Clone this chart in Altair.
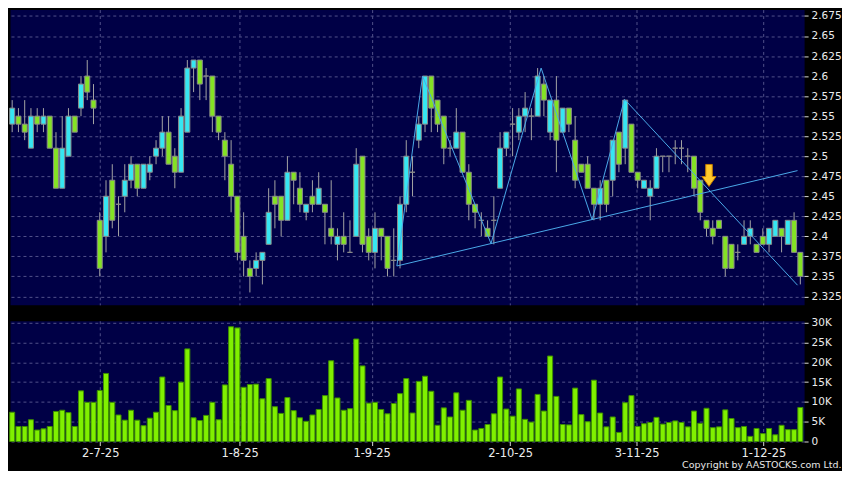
import altair as alt
import pandas as pd

# ---------------- data ----------------
opens = [2.54,2.55,2.54,2.51,2.55,2.54,2.55,2.51,2.46,2.50,
         2.55,2.56,2.60,2.57,2.42,2.40,2.47,2.44,2.45,2.47,
         2.49,2.46,2.48,2.50,2.51,2.53,2.50,2.48,2.53,2.61,
         2.62,2.60,2.60,2.55,2.52,2.49,2.45,2.40,2.36,2.36,
         2.37,2.39,2.45,2.45,2.42,2.48,2.46,2.43,2.45,2.44,
         2.44,2.41,2.39,2.40,2.38,2.40,2.50,2.40,2.38,2.41,
         2.40,2.37,2.37,2.44,2.48,2.52,2.54,2.60,2.57,2.55,
         2.51,2.51,2.53,2.48,2.44,2.42,2.41,2.42,2.46,2.51,
         2.54,2.53,2.55,2.55,2.55,2.59,2.53,2.57,2.53,2.56,
         2.52,2.49,2.49,2.46,2.44,2.47,2.47,2.53,2.51,2.54,
         2.48,2.46,2.45,2.46,2.50,2.50,2.51,2.51,2.50,2.50,
         2.47,2.42,2.41,2.42,2.40,2.39,2.38,2.39,2.40,2.39,
         2.40,2.39,2.40,2.41,2.39,2.42,2.38]
highs = [2.57,2.56,2.57,2.56,2.56,2.56,2.55,2.53,2.55,2.56,
         2.55,2.60,2.62,2.59,2.43,2.47,2.49,2.45,2.49,2.50,
         2.49,2.49,2.50,2.52,2.55,2.55,2.51,2.56,2.62,2.62,
         2.62,2.61,2.60,2.55,2.53,2.52,2.45,2.43,2.37,2.38,
         2.38,2.46,2.47,2.45,2.50,2.48,2.48,2.44,2.47,2.48,
         2.44,2.47,2.41,2.43,2.42,2.51,2.50,2.41,2.43,2.41,
         2.40,2.41,2.45,2.52,2.50,2.55,2.60,2.60,2.57,2.55,
         2.52,2.56,2.53,2.49,2.44,2.43,2.42,2.45,2.53,2.53,
         2.56,2.56,2.58,2.56,2.61,2.60,2.57,2.60,2.56,2.56,
         2.55,2.49,2.50,2.46,2.47,2.47,2.52,2.53,2.57,2.54,
         2.48,2.47,2.47,2.51,2.50,2.50,2.52,2.52,2.51,2.50,
         2.47,2.42,2.42,2.42,2.40,2.39,2.39,2.42,2.42,2.39,
         2.41,2.41,2.42,2.41,2.42,2.43,2.38]
lows = [2.53,2.53,2.52,2.51,2.53,2.53,2.51,2.46,2.46,2.50,
        2.53,2.55,2.57,2.54,2.35,2.38,2.41,2.40,2.43,2.46,
        2.45,2.46,2.47,2.49,2.50,2.49,2.46,2.48,2.53,2.58,
        2.57,2.57,2.53,2.52,2.47,2.43,2.37,2.35,2.33,2.35,
        2.34,2.39,2.41,2.40,2.42,2.44,2.43,2.42,2.43,2.44,
        2.39,2.39,2.37,2.38,2.38,2.40,2.38,2.37,2.36,2.37,
        2.35,2.35,2.36,2.43,2.45,2.51,2.53,2.53,2.53,2.49,
        2.50,2.51,2.48,2.42,2.41,2.40,2.40,2.39,2.46,2.50,
        2.50,2.52,2.53,2.52,2.55,2.55,2.52,2.48,2.53,2.53,
        2.46,2.48,2.46,2.42,2.42,2.43,2.45,2.48,2.49,2.48,
        2.46,2.46,2.42,2.46,2.48,2.48,2.49,2.49,2.48,2.45,
        2.42,2.40,2.39,2.41,2.35,2.36,2.37,2.39,2.39,2.38,
        2.39,2.38,2.40,2.38,2.39,2.38,2.34]
closes = [2.56,2.54,2.53,2.55,2.54,2.55,2.51,2.46,2.51,2.55,
          2.53,2.59,2.58,2.56,2.36,2.45,2.42,2.44,2.47,2.49,
          2.46,2.49,2.49,2.51,2.53,2.49,2.48,2.55,2.61,2.62,
          2.59,2.60,2.55,2.53,2.50,2.45,2.38,2.37,2.35,2.37,
          2.38,2.43,2.44,2.42,2.48,2.47,2.44,2.44,2.44,2.46,
          2.43,2.40,2.40,2.39,2.38,2.49,2.39,2.38,2.41,2.40,
          2.36,2.37,2.44,2.50,2.48,2.54,2.60,2.56,2.54,2.51,
          2.51,2.53,2.48,2.44,2.43,2.42,2.40,2.42,2.51,2.53,
          2.54,2.55,2.56,2.55,2.60,2.57,2.57,2.52,2.56,2.54,
          2.47,2.48,2.46,2.44,2.46,2.44,2.52,2.49,2.57,2.48,
          2.47,2.47,2.46,2.50,2.50,2.50,2.51,2.51,2.50,2.46,
          2.43,2.41,2.40,2.41,2.36,2.36,2.38,2.40,2.41,2.38,
          2.39,2.41,2.42,2.40,2.42,2.38,2.35]
volumes_k = [7.4,3.8,3.8,5.5,2.9,3.2,3.8,7.6,7.9,7.3,
             3.8,12.8,9.9,9.9,12.9,17.2,9.9,6.7,5.4,7.9,
             5.4,4.0,5.9,7.4,16.3,9.1,7.8,15.0,23.4,6.0,
             5.3,6.6,9.9,5.5,14.3,29.0,28.7,13.7,14.4,14.5,
             10.8,15.9,8.8,7.1,11.1,7.8,6.0,5.1,6.7,8.1,
             11.6,20.4,11.0,7.9,8.3,25.9,19.1,9.7,9.9,8.1,
             7.0,9.6,12.1,15.9,7.2,15.2,16.5,12.7,4.1,8.5,
             6.2,12.3,7.9,10.4,2.9,3.3,4.3,7.0,16.3,8.2,
             6.4,13.3,5.6,4.9,11.9,7.7,21.6,11.4,4.3,4.2,
             13.5,6.8,5.0,15.5,7.2,3.7,6.2,2.3,9.8,11.6,
             3.8,4.5,4.8,6.1,4.4,4.8,5.2,4.8,3.7,7.7,
             4.6,8.4,3.5,3.7,8.0,5.8,3.5,3.8,1.3,3.3,
             2.0,3.3,1.7,4.1,3.0,3.0,8.6]

tick_pos = [14.07, 36.36, 57.47, 79.6, 99.83, 120.1]
tick_lab = ["2-7-25", "1-8-25", "1-9-25", "2-10-25", "3-11-25", "1-12-25"]
price_ticks = [2.325, 2.35, 2.375, 2.4, 2.425, 2.45, 2.475, 2.5, 2.525,
               2.55, 2.575, 2.6, 2.625, 2.65, 2.675]
vol_ticks = [0, 5000, 10000, 15000, 20000, 25000, 30000]

# drawn trend lines (index, price)
zz_idx = [61.5, 65.6, 76.55, 84.56, 92.72, 97.89, 125.55]
zz_price = [2.363, 2.600, 2.391, 2.610, 2.4205, 2.571, 2.339]
sup_idx = [61.5, 125.55]
sup_price = [2.363, 2.482]
arrow_idx = [111.4]
arrow_price = [2.476]

# ---------------- tables ----------------
n = len(opens)
df = pd.DataFrame({
    "idx": list(range(n)),
    "open": opens, "high": highs, "low": lows, "close": closes,
    "vol": [v * 1000 for v in volumes_k],
    "dir": ["up" if c > o else "down" for o, c in zip(opens, closes)],
})
lines = pd.DataFrame({
    "idx": zz_idx + sup_idx,
    "price": zz_price + sup_price,
    "seg": ["zz"] * len(zz_idx) + ["sup"] * len(sup_idx),
    "ord": list(range(len(zz_idx))) + list(range(len(sup_idx))),
})
arrow_df = pd.DataFrame({"idx": arrow_idx, "price": arrow_price})

# ---------------- styling ----------------
W, HP, HV = 796, 296, 121
FONT = "DejaVu Sans"
xs = alt.Scale(domain=[-0.35, 126.6], nice=False, zero=False)
ys = alt.Scale(domain=[2.3145, 2.683], nice=False, zero=False)
vs = alt.Scale(domain=[0, 30500], nice=False, zero=False)

label_expr = " : ".join(f"datum.value == {p} ? '{l}'" for p, l in zip(tick_pos, tick_lab)) + " : ''"

x_axis_price = alt.Axis(values=tick_pos, labels=False, ticks=False, domain=False,
                        grid=True, title=None)
y_axis_price = alt.Axis(orient="right", values=price_ticks, format=".4~g", grid=True,
                        tickSize=4, labelPadding=3, labelFontSize=10.5,
                        domain=False, title=None)
x_axis_vol = alt.Axis(values=tick_pos, labelExpr=label_expr, grid=True, ticks=True,
                      tickSize=4, labelPadding=2, labelFontSize=11.5, domain=False,
                      title=None)
y_axis_vol = alt.Axis(orient="right", values=vol_ticks,
                      labelExpr="datum.value == 0 ? '0' : (datum.value / 1000) + 'K'",
                      grid=True, tickSize=4, labelPadding=3, labelFontSize=10.5,
                      domain=False, title=None)

ARROW = "M-0.3,-1 L0.3,-1 L0.3,0.1 L0.64,0.1 L0,1 L-0.64,0.1 L-0.3,0.1 Z"

base = alt.Chart(df)

wicks = base.mark_rule(color="#a4a4a4", strokeWidth=1).encode(
    x=alt.X("idx:Q", scale=xs, axis=x_axis_price),
    y=alt.Y("low:Q", scale=ys, axis=y_axis_price),
    y2="high:Q",
)
bodies = base.transform_calculate(
    x0="datum.idx - 0.4", x1="datum.idx + 0.4"
).mark_rect(stroke="#8a8a8a", strokeWidth=1).encode(
    x=alt.X("x0:Q", scale=xs, axis=x_axis_price),
    x2="x1:Q",
    y=alt.Y("open:Q", scale=ys, axis=y_axis_price),
    y2="close:Q",
    color=alt.Color("dir:N", scale=alt.Scale(domain=["up", "down"],
                                             range=["#36e6f2", "#84e224"]),
                    legend=None),
)
trend = alt.Chart(lines).mark_line(color="#4aa9e8", strokeWidth=1).encode(
    x=alt.X("idx:Q", scale=xs, axis=x_axis_price),
    y=alt.Y("price:Q", scale=ys, axis=y_axis_price),
    detail="seg:N",
    order="ord:Q",
)
arrow = alt.Chart(arrow_df).mark_point(
    shape=ARROW, filled=True, size=484, fill="#ffc92b", stroke="#c47c00",
    strokeWidth=1, opacity=1
).encode(
    x=alt.X("idx:Q", scale=xs, axis=x_axis_price),
    y=alt.Y("price:Q", scale=ys, axis=y_axis_price),
)

price = alt.layer(wicks, bodies, trend, arrow).properties(width=W, height=HP)

volume = base.transform_calculate(
    x0="datum.idx - 0.4", x1="datum.idx + 0.4"
).mark_rect(fill="#80f000", stroke="#3d8f00", strokeWidth=1).encode(
    x=alt.X("x0:Q", scale=xs, axis=x_axis_vol),
    x2="x1:Q",
    y=alt.Y("vol:Q", scale=vs, axis=y_axis_vol),
    y2=alt.datum(0),
).properties(width=W, height=HV)

chart = alt.vconcat(price, volume, spacing=11).properties(
    padding={"left": 0, "right": 0, "top": 0, "bottom": 0},
    title=alt.TitleParams("Copyright by AASTOCKS.com Ltd.", orient="bottom",
                          anchor="end", font=FONT, fontSize=9.5,
                          fontWeight="normal", color="#e8e8e8", offset=1),
).configure(
    background="#000000"
).configure_view(
    fill="#000046", stroke="transparent"
).configure_axis(
    labelFont=FONT, labelColor="#ececec", tickColor="#d8d8d8",
    gridColor="#50508a", gridDash=[3, 3], gridWidth=1,
)

chart.save("out.html", embed_options={"renderer": "svg", "actions": False})
